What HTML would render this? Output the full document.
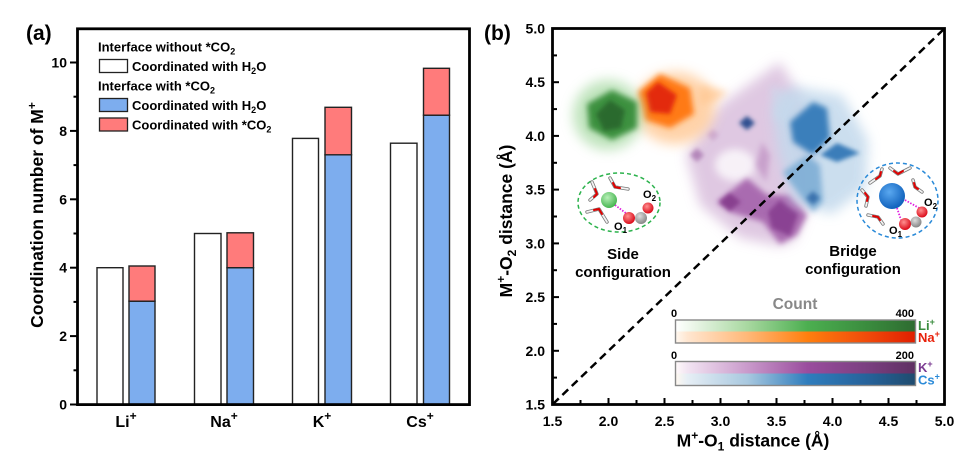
<!DOCTYPE html>
<html><head><meta charset="utf-8"><style>
html,body{margin:0;padding:0;background:#fff}
svg{display:block}
text{font-family:"Liberation Sans",Arial,sans-serif;font-weight:bold}
</style></head><body>
<svg width="977" height="467" viewBox="0 0 977 467" xmlns="http://www.w3.org/2000/svg">
<defs>
<filter id="b2" x="-50%" y="-50%" width="200%" height="200%"><feGaussianBlur stdDeviation="2"/></filter>
<filter id="b3" x="-50%" y="-50%" width="200%" height="200%"><feGaussianBlur stdDeviation="3"/></filter>
<filter id="b4" x="-50%" y="-50%" width="200%" height="200%"><feGaussianBlur stdDeviation="4"/></filter>
<filter id="b6" x="-50%" y="-50%" width="200%" height="200%"><feGaussianBlur stdDeviation="6"/></filter>
<filter id="b7" x="-50%" y="-50%" width="200%" height="200%"><feGaussianBlur stdDeviation="7"/></filter>
<linearGradient id="gG" x1="0" x2="1" y1="0" y2="0">
<stop offset="0" stop-color="#ffffff"/><stop offset="0.05" stop-color="#f2f9f0"/><stop offset="0.3" stop-color="#a8d8a0"/><stop offset="0.55" stop-color="#4caf50"/><stop offset="0.8" stop-color="#3a8c3e"/><stop offset="1" stop-color="#2e6b30"/></linearGradient>
<linearGradient id="gO" x1="0" x2="1" y1="0" y2="0">
<stop offset="0" stop-color="#fff8f0"/><stop offset="0.05" stop-color="#ffe6d0"/><stop offset="0.3" stop-color="#ffb878"/><stop offset="0.55" stop-color="#ff7f0e"/><stop offset="0.8" stop-color="#f04a0a"/><stop offset="1" stop-color="#e01e00"/></linearGradient>
<linearGradient id="gP" x1="0" x2="1" y1="0" y2="0">
<stop offset="0" stop-color="#fffafa"/><stop offset="0.05" stop-color="#f2e4f2"/><stop offset="0.3" stop-color="#c99acb"/><stop offset="0.55" stop-color="#9a4d9e"/><stop offset="0.8" stop-color="#7a3f80"/><stop offset="1" stop-color="#5e3062"/></linearGradient>
<linearGradient id="gB" x1="0" x2="1" y1="0" y2="0">
<stop offset="0" stop-color="#fff8f0"/><stop offset="0.05" stop-color="#e6eef5"/><stop offset="0.3" stop-color="#a8c8df"/><stop offset="0.55" stop-color="#2f7dbd"/><stop offset="0.8" stop-color="#26629a"/><stop offset="1" stop-color="#1f4b6e"/></linearGradient>
<radialGradient id="sG" cx="0.4" cy="0.35" r="0.7"><stop offset="0" stop-color="#b8f0b8"/><stop offset="1" stop-color="#3fb14a"/></radialGradient>
<radialGradient id="sB" cx="0.4" cy="0.35" r="0.7"><stop offset="0" stop-color="#5aa8f0"/><stop offset="1" stop-color="#0a5cb8"/></radialGradient>
<radialGradient id="sR" cx="0.4" cy="0.35" r="0.7"><stop offset="0" stop-color="#ff9090"/><stop offset="1" stop-color="#d80010"/></radialGradient>
<radialGradient id="sC" cx="0.4" cy="0.35" r="0.7"><stop offset="0" stop-color="#dddddd"/><stop offset="1" stop-color="#808080"/></radialGradient>
</defs>

<!-- ============ PANEL (a) ============ -->
<text x="26" y="40" font-size="21">(a)</text>

<g stroke="#222" stroke-width="1.4">
<rect x="97" y="267.7" width="26" height="136.8" fill="#fff"/>
<rect x="129" y="301.2" width="26" height="103.3" fill="#7dadee"/>
<rect x="129" y="266" width="26" height="35.2" fill="#ff7b7b"/>

<rect x="194.5" y="233.5" width="26.5" height="171" fill="#fff"/>
<rect x="227" y="267.7" width="26.5" height="136.8" fill="#7dadee"/>
<rect x="227" y="232.8" width="26.5" height="34.9" fill="#ff7b7b"/>

<rect x="292.5" y="138.4" width="26" height="266.1" fill="#fff"/>
<rect x="325" y="154.8" width="26.5" height="249.7" fill="#7dadee"/>
<rect x="325" y="107.3" width="26.5" height="47.5" fill="#ff7b7b"/>

<rect x="390.5" y="143.2" width="26.5" height="261.3" fill="#fff"/>
<rect x="423.5" y="115.2" width="26" height="289.3" fill="#7dadee"/>
<rect x="423.5" y="68.3" width="26" height="46.9" fill="#ff7b7b"/>
</g>

<rect x="77.5" y="28.8" width="392" height="375.8" fill="none" stroke="#000" stroke-width="2.8"/>
<g stroke="#000" stroke-width="2">
<line x1="70" y1="404.5" x2="77" y2="404.5"/>
<line x1="70" y1="336.1" x2="77" y2="336.1"/>
<line x1="70" y1="267.7" x2="77" y2="267.7"/>
<line x1="70" y1="199.3" x2="77" y2="199.3"/>
<line x1="70" y1="130.9" x2="77" y2="130.9"/>
<line x1="70" y1="62.5" x2="77" y2="62.5"/>
<line x1="73.5" y1="370.3" x2="77" y2="370.3"/>
<line x1="73.5" y1="301.9" x2="77" y2="301.9"/>
<line x1="73.5" y1="233.5" x2="77" y2="233.5"/>
<line x1="73.5" y1="165.1" x2="77" y2="165.1"/>
<line x1="73.5" y1="96.7" x2="77" y2="96.7"/>
</g>
<g font-size="14" text-anchor="end">
<text x="67" y="409.5">0</text>
<text x="67" y="341.1">2</text>
<text x="67" y="272.7">4</text>
<text x="67" y="204.3">6</text>
<text x="67" y="135.9">8</text>
<text x="67" y="67.5">10</text>
</g>
<g font-size="16" text-anchor="middle">
<text x="126" y="427">Li<tspan font-size="12" dy="-7">+</tspan></text>
<text x="224" y="427">Na<tspan font-size="12" dy="-7">+</tspan></text>
<text x="322" y="427">K<tspan font-size="12" dy="-7">+</tspan></text>
<text x="420" y="427">Cs<tspan font-size="12" dy="-7">+</tspan></text>
</g>
<text transform="translate(43,215) rotate(-90)" font-size="17.5" text-anchor="middle">Coordination number of M<tspan font-size="12" dy="-7">+</tspan></text>

<g font-size="13">
<text x="98" y="51.7">Interface without *CO<tspan font-size="9" dy="3">2</tspan></text>
<rect x="99.5" y="59.5" width="28" height="13" fill="#fff" stroke="#222" stroke-width="1.3"/>
<text x="132" y="71">Coordinated with H<tspan font-size="9" dy="3">2</tspan><tspan dy="-3">O</tspan></text>
<text x="98" y="90.5">Interface with *CO<tspan font-size="9" dy="3">2</tspan></text>
<rect x="99.5" y="98.5" width="28" height="13" fill="#7dadee" stroke="#222" stroke-width="1.3"/>
<text x="132" y="110">Coordinated with H<tspan font-size="9" dy="3">2</tspan><tspan dy="-3">O</tspan></text>
<rect x="99.5" y="118" width="28" height="13" fill="#ff7b7b" stroke="#222" stroke-width="1.3"/>
<text x="132" y="129.5">Coordinated with *CO<tspan font-size="9" dy="3">2</tspan></text>
</g>

<!-- ============ PANEL (b) ============ -->
<text x="484" y="40" font-size="21">(b)</text>

<!-- purple -->
<g>
<polygon points="780,62 813,118 815,190 795,240 780,246 740,238 700,205 686,155 720,105" fill="#dcc3df" opacity="0.9" filter="url(#b6)"/>
<polygon points="770,85 792,95 795,125 775,120" fill="#cfd6ea" opacity="0.8" filter="url(#b4)"/>
<ellipse cx="735" cy="165" rx="20" ry="16" fill="#fff" opacity="0.75" filter="url(#b4)"/>
<polygon points="717,202 747,178 767,195 790,195 807,215 797,235 780,244 763,222 730,212" fill="#a462ab" opacity="0.9" filter="url(#b3)"/>
<polygon points="730,193 741,202 730,211 719,202" fill="#88408f" filter="url(#b2)"/>
<polygon points="780,200 798,214 790,236 772,228 768,212" fill="#8a4393" filter="url(#b2)"/>
<polygon points="697,148 704,155 697,162 690,155" fill="#b486ba" filter="url(#b2)"/>
<polygon points="713,129 719,135 713,141 707,135" fill="#cdaad1" filter="url(#b2)"/>
<polygon points="762,142 770,155 766,182 756,165" fill="#c49ac8" opacity="0.85" filter="url(#b3)"/>
</g>
<!-- blue -->
<g>
<polygon points="790,86 842,95 868,140 866,188 832,214 792,202 778,150 772,108" fill="#c3d9ec" opacity="0.85" filter="url(#b6)"/>
<polygon points="790,122 813,102 827,108 830,138 813,155 793,142" fill="#3b7fbb" filter="url(#b3)"/>
<polygon points="820,155 837,143 860,153 837,162" fill="#3a7db9" filter="url(#b2)"/>
<polygon points="783,172 807,155 820,165 823,202 813,212 800,195 787,178" fill="#7eaed5" opacity="0.9" filter="url(#b3)"/>
<polygon points="813,191 820,198 813,205 806,198" fill="#3a72ad" filter="url(#b2)"/>
<polygon points="747,116 755,123 747,130 739,123" fill="#2f4f90" filter="url(#b2)"/>
</g>
<!-- orange -->
<g>
<ellipse cx="675" cy="108" rx="40" ry="36" fill="#ffc48c" opacity="0.75" filter="url(#b6)"/>
<polygon points="700,84 728,92 715,102 700,104" fill="#ffc48c" opacity="0.7" filter="url(#b4)"/>
<polygon points="660,74 690,88 694,114 670,128 645,120 638,92" fill="#ff7a12" filter="url(#b3)"/>
<polygon points="658,82 677,95 670,114 650,112 646,93" fill="#e32a08" filter="url(#b2)"/>
</g>
<!-- green -->
<g>
<ellipse cx="608" cy="115" rx="35" ry="35" fill="#a6d9a2" opacity="0.7" filter="url(#b6)"/>
<polygon points="612,90 637,102 637,128 612,140 589,128 587,104" fill="#3d9140" filter="url(#b3)"/>
<polygon points="610,100 625,110 621,128 604,131 596,114" fill="#2c6a2f" filter="url(#b2)"/>
</g>

<!-- side inset -->
<ellipse cx="619" cy="202.5" rx="41" ry="29.5" fill="none" stroke="#2bb24c" stroke-width="1.5" stroke-dasharray="4,3"/>
<g stroke-linecap="round" stroke-linejoin="round" fill="none">
<g stroke="#777" stroke-width="3.4">
<polyline points="592,182 597,194 590,200"/>
<polyline points="610,178 615,187 628,189"/>
<polyline points="587,212 599,209 607,222"/>
</g>
<g stroke="#f2f2f2" stroke-width="1.8">
<polyline points="592,182 597,194 590,200"/>
<polyline points="610,178 615,187 628,189"/>
<polyline points="587,212 599,209 607,222"/>
</g>
<g stroke="#e00000" stroke-width="2">
<polyline points="595,189 597,194 594,197"/>
<polyline points="613,183 615,187 620,188"/>
<polyline points="594,210 599,209 602,214"/>
</g>
</g>
<line x1="615" y1="205" x2="627" y2="214" stroke="#e020e0" stroke-width="1.8" stroke-dasharray="1.5,1.5"/>
<circle cx="609" cy="200" r="8" fill="url(#sG)"/>
<circle cx="641" cy="218" r="6" fill="url(#sC)"/>
<circle cx="648" cy="208" r="5.5" fill="url(#sR)"/>
<circle cx="629" cy="218" r="6" fill="url(#sR)"/>
<text x="614" y="230" font-size="11">O<tspan font-size="8" dy="3">1</tspan></text>
<text x="643" y="198" font-size="11">O<tspan font-size="8" dy="3">2</tspan></text>

<!-- bridge inset -->
<ellipse cx="897.5" cy="200.5" rx="40.5" ry="37.5" fill="none" stroke="#2a8ad8" stroke-width="1.5" stroke-dasharray="4,3"/>
<g stroke-linecap="round" stroke-linejoin="round" fill="none">
<g stroke="#777" stroke-width="3.4">
<polyline points="890,168 898,174 910,168"/>
<polyline points="882,169 880,176 870,183"/>
<polyline points="913,180 915,187 922,192"/>
<polyline points="862,190 868,197 866,206"/>
<polyline points="868,215 878,217 883,224"/>
</g>
<g stroke="#f2f2f2" stroke-width="1.8">
<polyline points="890,168 898,174 910,168"/>
<polyline points="882,169 880,176 870,183"/>
<polyline points="913,180 915,187 922,192"/>
<polyline points="862,190 868,197 866,206"/>
<polyline points="868,215 878,217 883,224"/>
</g>
<g stroke="#e00000" stroke-width="2">
<polyline points="894,171 898,174 903,171"/>
<polyline points="881,172 880,176 876,179"/>
<polyline points="914,183 915,187 918,189"/>
<polyline points="865,193 868,197 867,201"/>
<polyline points="873,216 878,217 880,220"/>
</g>
</g>
<line x1="897" y1="208" x2="901" y2="220" stroke="#e020e0" stroke-width="1.8" stroke-dasharray="1.5,1.5"/>
<line x1="905" y1="200" x2="919" y2="208" stroke="#e020e0" stroke-width="1.8" stroke-dasharray="1.5,1.5"/>
<circle cx="892" cy="196" r="13" fill="url(#sB)"/>
<circle cx="916" cy="222" r="5.5" fill="url(#sC)"/>
<circle cx="922" cy="212" r="5.5" fill="url(#sR)"/>
<circle cx="905" cy="224" r="6" fill="url(#sR)"/>
<text x="889" y="234" font-size="11">O<tspan font-size="8" dy="3">1</tspan></text>
<text x="924" y="206" font-size="11">O<tspan font-size="8" dy="3">2</tspan></text>

<g font-size="15" text-anchor="middle">
<text x="623" y="259">Side</text>
<text x="623" y="277">configuration</text>
<text x="853" y="256">Bridge</text>
<text x="853" y="274">configuration</text>
</g>

<!-- colorbars -->
<text x="795" y="309" font-size="15.5" fill="#888" text-anchor="middle">Count</text>
<rect x="675.5" y="320" width="240" height="11.5" fill="url(#gG)"/>
<rect x="675.5" y="331.5" width="240" height="11.5" fill="url(#gO)"/>
<rect x="675.5" y="320" width="240" height="23" fill="none" stroke="#888" stroke-width="1.4"/>
<rect x="675.5" y="361.5" width="240" height="12" fill="url(#gP)"/>
<rect x="675.5" y="373.5" width="240" height="12" fill="url(#gB)"/>
<rect x="675.5" y="361.5" width="240" height="24" fill="none" stroke="#888" stroke-width="1.4"/>
<g font-size="11">
<text x="671" y="317">0</text>
<text x="914" y="317" text-anchor="end">400</text>
<text x="671" y="359">0</text>
<text x="914" y="359" text-anchor="end">200</text>
</g>
<g font-size="13">
<text x="918" y="330" fill="#3a8c3e">Li<tspan font-size="9" dy="-5">+</tspan></text>
<text x="918" y="342" fill="#e8200a">Na<tspan font-size="9" dy="-5">+</tspan></text>
<text x="918" y="372" fill="#7a3a90">K<tspan font-size="9" dy="-5">+</tspan></text>
<text x="918" y="384.5" fill="#2a8ad8">Cs<tspan font-size="9" dy="-5">+</tspan></text>
</g>

<line x1="553" y1="404" x2="944" y2="29" stroke="#000" stroke-width="2.5" stroke-dasharray="8,5"/>

<rect x="552.5" y="28.5" width="392" height="376" fill="none" stroke="#000" stroke-width="2.8"/>
<g stroke="#000" stroke-width="2">
<line x1="580.5" y1="404" x2="580.5" y2="400"/>
<line x1="608.5" y1="404" x2="608.5" y2="398"/>
<line x1="636.5" y1="404" x2="636.5" y2="400"/>
<line x1="664.5" y1="404" x2="664.5" y2="398"/>
<line x1="692.5" y1="404" x2="692.5" y2="400"/>
<line x1="720.5" y1="404" x2="720.5" y2="398"/>
<line x1="748.5" y1="404" x2="748.5" y2="400"/>
<line x1="776.5" y1="404" x2="776.5" y2="398"/>
<line x1="804.5" y1="404" x2="804.5" y2="400"/>
<line x1="832.5" y1="404" x2="832.5" y2="398"/>
<line x1="860.5" y1="404" x2="860.5" y2="400"/>
<line x1="888.5" y1="404" x2="888.5" y2="398"/>
<line x1="916.5" y1="404" x2="916.5" y2="400"/>

<line x1="553" y1="377.6" x2="557" y2="377.6"/>
<line x1="553" y1="350.8" x2="559" y2="350.8"/>
<line x1="553" y1="323.9" x2="557" y2="323.9"/>
<line x1="553" y1="297.1" x2="559" y2="297.1"/>
<line x1="553" y1="270.2" x2="557" y2="270.2"/>
<line x1="553" y1="243.4" x2="559" y2="243.4"/>
<line x1="553" y1="216.5" x2="557" y2="216.5"/>
<line x1="553" y1="189.6" x2="559" y2="189.6"/>
<line x1="553" y1="162.8" x2="557" y2="162.8"/>
<line x1="553" y1="135.9" x2="559" y2="135.9"/>
<line x1="553" y1="109.1" x2="557" y2="109.1"/>
<line x1="553" y1="82.2" x2="559" y2="82.2"/>
<line x1="553" y1="55.4" x2="557" y2="55.4"/>
</g>
<g font-size="14" text-anchor="middle">
<text x="552.5" y="426">1.5</text>
<text x="608.5" y="426">2.0</text>
<text x="664.5" y="426">2.5</text>
<text x="720.5" y="426">3.0</text>
<text x="776.5" y="426">3.5</text>
<text x="832.5" y="426">4.0</text>
<text x="888.5" y="426">4.5</text>
<text x="944.5" y="426">5.0</text>
</g>
<g font-size="14" text-anchor="end">
<text x="545" y="409.5">1.5</text>
<text x="545" y="355.8">2.0</text>
<text x="545" y="302.1">2.5</text>
<text x="545" y="248.4">3.0</text>
<text x="545" y="194.6">3.5</text>
<text x="545" y="140.9">4.0</text>
<text x="545" y="87.2">4.5</text>
<text x="545" y="33.5">5.0</text>
</g>
<text x="753" y="446.5" font-size="17.5" text-anchor="middle">M<tspan font-size="12" dy="-7">+</tspan><tspan dy="7">-O</tspan><tspan font-size="12" dy="4">1</tspan><tspan dy="-4"> distance (Å)</tspan></text>
<text transform="translate(512,221) rotate(-90)" font-size="17.5" text-anchor="middle">M<tspan font-size="12" dy="-7">+</tspan><tspan dy="7">-O</tspan><tspan font-size="12" dy="4">2</tspan><tspan dy="-4"> distance (Å)</tspan></text>
</svg>
</body></html>
